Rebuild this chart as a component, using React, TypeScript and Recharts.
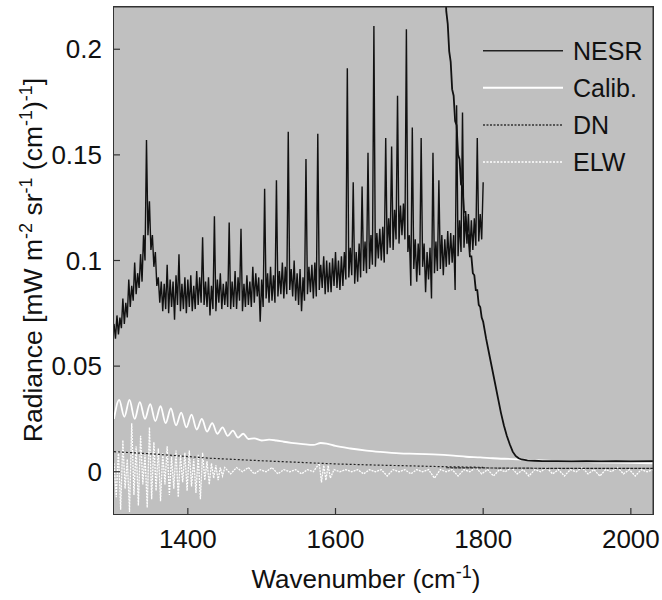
import { LineChart, Line, XAxis, YAxis, Legend } from 'recharts'

const FONT = '"Liberation Sans", Arial, Helvetica, sans-serif'

// wavenumber grids (cm^-1)
const grid = (start: number, end: number, step: number) =>
  Array.from({ length: Math.round((end - start) / step) + 1 }, (_, i) => start + i * step)

const X_TICKS = [1400, 1600, 1800, 2000]
const Y_TICKS = [0, 0.05, 0.1, 0.15, 0.2]
const X_DOMAIN = [1300, 2030]
const Y_DOMAIN = [-0.02, 0.22]

// NESR, first band (1300-1800, every 2 cm^-1)
const NESR_A_WN = grid(1300, 1800, 2)
const NESR_A = [
  0.070, 0.063, 0.074, 0.065, 0.073, 0.068, 0.082, 0.070, 0.080, 0.073,
  0.091, 0.078, 0.088, 0.081, 0.099, 0.084, 0.094, 0.087, 0.103, 0.090,
  0.112, 0.100, 0.157, 0.112, 0.128, 0.105, 0.112, 0.097, 0.104, 0.088,
  0.092, 0.080, 0.090, 0.076, 0.089, 0.077, 0.098, 0.075, 0.091, 0.078,
  0.090, 0.072, 0.093, 0.079, 0.103, 0.076, 0.089, 0.077, 0.092, 0.075,
  0.091, 0.078, 0.093, 0.076, 0.088, 0.077, 0.095, 0.079, 0.092, 0.080,
  0.111, 0.079, 0.090, 0.078, 0.092, 0.074, 0.088, 0.077, 0.121, 0.076,
  0.091, 0.080, 0.094, 0.077, 0.089, 0.079, 0.090, 0.078, 0.118, 0.077,
  0.090, 0.078, 0.095, 0.077, 0.092, 0.081, 0.115, 0.076, 0.089, 0.078,
  0.093, 0.079, 0.090, 0.078, 0.097, 0.080, 0.094, 0.083, 0.092, 0.071,
  0.091, 0.078, 0.134, 0.082, 0.094, 0.080, 0.097, 0.081, 0.093, 0.080,
  0.138, 0.083, 0.095, 0.084, 0.099, 0.082, 0.097, 0.084, 0.161, 0.086,
  0.096, 0.083, 0.100, 0.081, 0.094, 0.079, 0.096, 0.076, 0.092, 0.081,
  0.148, 0.084, 0.097, 0.085, 0.098, 0.082, 0.099, 0.083, 0.160, 0.086,
  0.098, 0.087, 0.102, 0.084, 0.100, 0.085, 0.099, 0.085, 0.101, 0.088,
  0.104, 0.087, 0.100, 0.086, 0.102, 0.088, 0.104, 0.091, 0.191, 0.092,
  0.106, 0.093, 0.137, 0.089, 0.104, 0.090, 0.108, 0.092, 0.135, 0.095,
  0.109, 0.094, 0.151, 0.096, 0.112, 0.098, 0.211, 0.097, 0.113, 0.101,
  0.115, 0.100, 0.116, 0.099, 0.158, 0.103, 0.120, 0.106, 0.154, 0.105,
  0.124, 0.110, 0.178, 0.108, 0.126, 0.112, 0.127, 0.110, 0.2095, 0.104,
  0.112, 0.088, 0.163, 0.096, 0.110, 0.090, 0.108, 0.093, 0.158, 0.097,
  0.108, 0.085, 0.104, 0.091, 0.106, 0.082, 0.151, 0.094, 0.109, 0.095,
  0.138, 0.096, 0.112, 0.093, 0.110, 0.097, 0.114, 0.098, 0.113, 0.099,
  0.112, 0.086, 0.1735, 0.102, 0.119, 0.104, 0.170, 0.106, 0.121, 0.108,
  0.122, 0.104, 0.119, 0.105, 0.120, 0.107, 0.158, 0.109, 0.122, 0.110,
  0.137,
]

// NESR, second band (1748-2030)
const NESR_B_WN = [...grid(1748, 1800, 2), ...grid(1804, 1852, 4), 1860, 1870, 1880, 1900, 1920, 1940, 1960, 1980, 2000, 2030]
const NESR_B = [
  0.240, 0.218, 0.212, 0.199, 0.194, 0.181, 0.178, 0.166, 0.164, 0.150,
  0.148, 0.136, 0.135, 0.123, 0.123, 0.112, 0.112, 0.102, 0.102, 0.094,
  0.093, 0.086, 0.086, 0.079, 0.078, 0.073, 0.071,
  0.063, 0.056, 0.049, 0.042, 0.035, 0.028, 0.022, 0.017, 0.013, 0.0095, 0.0075, 0.0064, 0.0058,
  0.0054, 0.0052, 0.0050, 0.0050, 0.0049, 0.0050, 0.0049, 0.0050, 0.0049, 0.0050,
]

// calibration uncertainty
const CALIB_WN = [
  ...grid(1300, 1482, 7),
  1490, 1500, 1510, 1520, 1530, 1540, 1556, 1570, 1580, 1588,
  1600, 1620, 1642, 1660, 1687, 1710, 1732, 1760, 1777, 1796,
  1813, 1840, 1863, 1900, 1950, 2000, 2030,
]
const CALIB = [
  0.025, 0.034, 0.026, 0.034, 0.025, 0.033, 0.025, 0.032, 0.024, 0.031,
  0.023, 0.030, 0.022, 0.028, 0.021, 0.027, 0.020, 0.025, 0.019, 0.023,
  0.018, 0.021, 0.017, 0.0195, 0.0162, 0.018, 0.0155,
  0.0158, 0.0148, 0.0152, 0.0148, 0.0142, 0.0137, 0.0131, 0.0127, 0.0136, 0.0133,
  0.0122, 0.0110, 0.0100, 0.0094, 0.0087, 0.0085, 0.0082, 0.0076, 0.0071, 0.0068,
  0.0064, 0.0060, 0.0056, 0.0050, 0.0045, 0.0042, 0.0040,
]

// digitisation noise
const DN_A_WN = [1300, 1350, 1400, 1430, 1500, 1567, 1600, 1650, 1700, 1746, 1800]
const DN_A = [0.0095, 0.0085, 0.0072, 0.0064, 0.0052, 0.0042, 0.0037, 0.0032, 0.0028, 0.0024, 0.0021]
const DN_B_WN = [1750, 1800, 1850, 1900, 1950, 2000, 2030]
const DN_B = [0.0019, 0.0018, 0.0017, 0.0016, 0.0016, 0.0016, 0.0016]

// ELW
const ELW_WN = [...grid(1300, 1450, 3), ...grid(1458, 1570, 8), 1578, 1581, 1584, 1587, 1590, 1593, ...grid(1598, 2030, 8)]
const ELW = [
  0.004, -0.012, 0.010, -0.018, 0.015, -0.008, 0.006, -0.019, 0.023, -0.011,
  0.012, -0.016, 0.017, -0.006, 0.008, -0.017, 0.021, -0.013, 0.014, -0.009,
  0.011, -0.014, 0.009, -0.006, 0.012, -0.011, 0.007, -0.008, 0.010, -0.012,
  0.008, -0.005, 0.009, -0.009, 0.010, -0.007, 0.006, -0.010, 0.008, -0.013,
  0.009, -0.004, 0.005, -0.006, 0.004, -0.003, 0.003, -0.004, 0.002, -0.002,
  0.002,
  -0.001, 0.002, 0.000, 0.002, -0.001, 0.001, 0.000, 0.002, -0.001, 0.001, 0.000, 0.001, -0.001, 0.001, 0.000,
  0.004, -0.005, 0.003, -0.004, 0.003, -0.003,
  0.001, 0.000, 0.001, 0.000, 0.001, -0.001, 0.001, 0.000, 0.001, -0.002,
  0.001, 0.000, 0.001, -0.001, 0.001, 0.000, 0.001, -0.003, 0.001, 0.000,
  0.001, -0.002, 0.001, 0.000, 0.002, -0.001, 0.001, -0.002, 0.001, 0.000,
  0.002, -0.001, 0.001, -0.002, 0.001, 0.000, 0.002, -0.001, 0.001, -0.002,
  0.001, 0.000, 0.002, -0.001, 0.001, -0.002, 0.001, 0.000, 0.002, -0.001,
  0.001, -0.002, 0.001, 0.000, 0.001,
]

const zip = (wn: number[], v: number[]) => wn.map((w, i) => ({ wn: w, v: v[i] }))

const LEGEND = [
  { name: 'NESR', color: '#222', dash: undefined, width: 1.5 },
  { name: 'Calib.', color: '#ffffff', dash: undefined, width: 2 },
  { name: 'DN', color: '#333', dash: '2 1.5', width: 1.5 },
  { name: 'ELW', color: '#ffffff', dash: '2 1.5', width: 1.5 },
]

function LegendBox() {
  return (
    <svg width={180} height={150} style={{ display: 'block' }}>
      {LEGEND.map((e, i) => {
        const y = 20.7 + i * 37.1
        return (
          <g key={e.name}>
            <line x1={3} x2={83} y1={y} y2={y} stroke={e.color} strokeWidth={e.width} strokeDasharray={e.dash} />
            <text x={93} y={y + 9} fontSize={25} fontFamily={FONT} fill="#111">{e.name}</text>
          </g>
        )
      })}
    </svg>
  )
}

const XLabel = () => (
  <text x={366} y={588} textAnchor="middle" fontSize={26} fontFamily={FONT} fill="#111">
    {'Wavenumber (cm'}
    <tspan dy={-10} fontSize={18}>-1</tspan>
    <tspan dy={10}>)</tspan>
  </text>
)

const YLabel = () => (
  <text x={42} y={260} transform="rotate(-90 42 260)" textAnchor="middle" fontSize={26.5} fontFamily={FONT} fill="#111">
    {'Radiance [mW m'}
    <tspan dy={-10} fontSize={18}>-2</tspan>
    <tspan dy={10}>{' sr'}</tspan>
    <tspan dy={-10} fontSize={18}>-1</tspan>
    <tspan dy={10}>{' (cm'}</tspan>
    <tspan dy={-10} fontSize={18}>-1</tspan>
    <tspan dy={10}>)</tspan>
    <tspan dy={-10} fontSize={18}>-1</tspan>
    <tspan dy={10}>]</tspan>
  </text>
)

// tick label plus a short inward tick mark (tickSize 6 + tickMargin 10 from the plot edge)
const XTick = (props: any) => {
  const { x, y, payload } = props
  return (
    <g>
      <line x1={x} x2={x} y1={y - 16} y2={y - 22} stroke="#333" strokeWidth={1.2} />
      <text x={x} y={y} dy="0.71em" textAnchor="middle" fontSize={26} fontFamily={FONT} fill="#111">{payload.value}</text>
    </g>
  )
}

// tickSize 6 + tickMargin 6 from the plot edge
const YTick = (props: any) => {
  const { x, y, payload } = props
  return (
    <g>
      <line x1={x + 12} x2={x + 18} y1={y} y2={y} stroke="#333" strokeWidth={1.2} />
      <text x={x} y={y} dy="0.355em" textAnchor="end" fontSize={26} fontFamily={FONT} fill="#111">{payload.value}</text>
    </g>
  )
}

export default function App() {
  return (
    <div style={{ position: 'absolute', left: 0, top: 0, width: 662, height: 600, background: '#fff' }}>
      {/* plot background and frame */}
      <div
        style={{
          position: 'absolute',
          left: 113,
          top: 6,
          width: 541,
          height: 509,
          boxSizing: 'border-box',
          border: '1px solid #333',
          background: '#c0c0c0',
        }}
      />
      <LineChart width={662} height={600} margin={{ top: 6, right: 8, bottom: 0, left: 0 }}>
        <XAxis
          dataKey="wn"
          type="number"
          domain={X_DOMAIN}
          allowDataOverflow
          ticks={X_TICKS}
          height={86}
          tickMargin={10}
          tickLine={false}
          axisLine={false}
          tick={<XTick />}
          label={{ content: XLabel }}
        />
        <YAxis
          type="number"
          domain={Y_DOMAIN}
          allowDataOverflow
          ticks={Y_TICKS}
          width={114}
          tickMargin={6}
          tickLine={false}
          axisLine={false}
          tick={<YTick />}
          label={{ content: YLabel }}
        />
        <XAxis xAxisId="top" orientation="top" type="number" domain={X_DOMAIN} allowDataOverflow ticks={X_TICKS} height={1} tickSize={-6} tick={false} stroke="#333" />
        <YAxis yAxisId="right" orientation="right" type="number" domain={Y_DOMAIN} allowDataOverflow ticks={Y_TICKS} width={1} tickSize={-6} tick={false} stroke="#333" />
        <Legend content={LegendBox} layout="vertical" align="center" verticalAlign="middle" wrapperStyle={{ left: 480, top: 30, width: 180, height: 150 }} />
        <Line data={zip(ELW_WN, ELW)} dataKey="v" type="linear" stroke="#ffffff" strokeWidth={1.3} strokeDasharray="2 1" dot={false} activeDot={false} isAnimationActive={false} />
        <Line data={zip(CALIB_WN, CALIB)} dataKey="v" type="monotone" stroke="#ffffff" strokeWidth={1.8} dot={false} activeDot={false} isAnimationActive={false} />
        <Line data={zip(DN_A_WN, DN_A)} dataKey="v" type="linear" stroke="#222" strokeWidth={1.2} strokeDasharray="2 2" dot={false} activeDot={false} isAnimationActive={false} />
        <Line data={zip(DN_B_WN, DN_B)} dataKey="v" type="linear" stroke="#222" strokeWidth={1.2} strokeDasharray="3 1" dot={false} activeDot={false} isAnimationActive={false} />
        <Line data={zip(NESR_A_WN, NESR_A)} dataKey="v" type="linear" stroke="#111" strokeWidth={1.4} dot={false} activeDot={false} isAnimationActive={false} />
        <Line data={zip(NESR_B_WN, NESR_B)} dataKey="v" type="linear" stroke="#111" strokeWidth={1.8} dot={false} activeDot={false} isAnimationActive={false} />
      </LineChart>
    </div>
  )
}
